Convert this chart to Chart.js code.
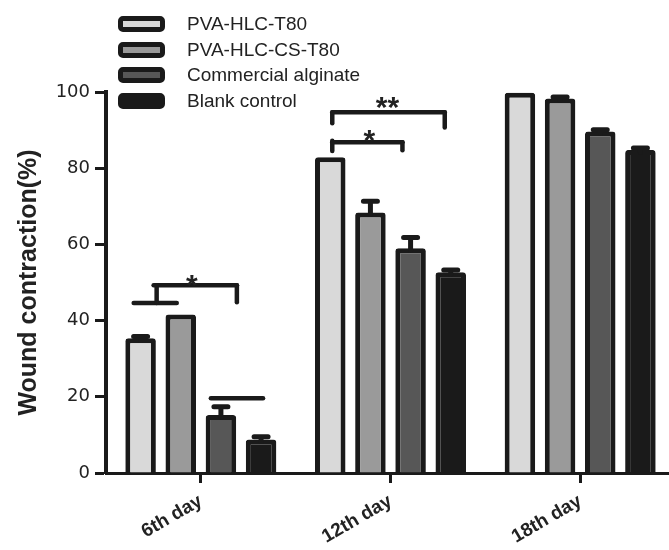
<!DOCTYPE html>
<html>
<head>
<meta charset="utf-8">
<script src="https://cdn.jsdelivr.net/npm/chart.js@4.4.1/dist/chart.umd.min.js"></script>
<style>
  html, body { margin: 0; padding: 0; background: #fff; overflow: hidden; }
  #wrap { position: relative; width: 675px; height: 550px; }
  #legend { position: absolute; left: 118px; top: 11px; font-family: 'Liberation Sans', Arial, sans-serif; font-size: 19px; color: #222; }
  .leg-row { display: flex; align-items: center; height: 25.7px; }
  .leg-box { width: 37px; height: 6px; border: 5px solid #1a1a1a; border-radius: 5px; margin-right: 22px; }
</style>
</head>
<body>
<div id="wrap">
  <canvas id="woundChart"></canvas>
  <div id="legend"></div>
</div>
<script>
// categories and series
var dayLabels = ['6th day', '12th day', '18th day'];
var seriesNames = ['PVA-HLC-T80', 'PVA-HLC-CS-T80', 'Commercial alginate', 'Blank control'];

// wound contraction (%) per day
var hlcT80 = [35.4, 82.9, 99.8];
var hlcCsT80 = [41.6, 68.4, 98.3];
var alginate = [15.2, 59.0, 89.6];
var blank = [8.8, 52.7, 84.8];

// error bars (upper only)
var hlcT80Err = [0.4, 0, 0];
var hlcCsT80Err = [0, 2.9, 0.4];
var alginateErr = [2.2, 2.8, 0.5];
var blankErr = [0.7, 0.6, 0.5];

var yTicks = [0, 20, 40, 60, 80, 100];

// significance marks, x in category index units, y in %
var sigLines = [
    [-0.354, 44.6, -0.127, 44.6],
    [-0.233, 44.6, -0.233, 49.3],
    [-0.249, 49.3, 0.19, 49.3],
    [0.19, 49.3, 0.19, 44.8],
    [0.053, 19.6, 0.328, 19.6],
    [0.693, 84.5, 0.693, 87.2],
    [0.693, 86.8, 1.063, 86.8],
    [1.063, 86.8, 1.063, 84.7],
    [0.693, 91.8, 0.693, 94.7],
    [0.693, 94.7, 1.286, 94.7],
    [1.286, 94.7, 1.286, 90.7]
];
var sigStars = [[-0.048, 51.3, '*'], [0.889, 89.2, '*'], [0.984, 97.9, '**']];

var fills = ['#d9d9d9', '#9a9a9a', '#575757', '#1a1a1a'];
var errs = [hlcT80Err, hlcCsT80Err, alginateErr, blankErr];
var ink = '#1a1a1a';

// error bars drawn on top of the bars
var errorBarPlugin = {
    id: 'errorBars',
    afterDatasetsDraw: function (chart) {
        var ctx = chart.ctx;
        var yScale = chart.scales.y;
        ctx.save();
        ctx.strokeStyle = ink;
        ctx.lineWidth = 5;
        ctx.lineCap = 'round';
        chart.data.datasets.forEach(function (ds, i) {
            var meta = chart.getDatasetMeta(i);
            meta.data.forEach(function (bar, j) {
                var e = errs[i][j];
                if (!e) return;
                var yc = yScale.getPixelForValue(ds.data[j] + e);
                ctx.beginPath();
                ctx.moveTo(bar.x, bar.y + 2);
                ctx.lineTo(bar.x, yc);
                ctx.moveTo(bar.x - 7, yc);
                ctx.lineTo(bar.x + 7, yc);
                ctx.stroke();
            });
        });
        ctx.restore();
    }
};

// brackets and asterisks
var sigPlugin = {
    id: 'sigMarks',
    afterDraw: function (chart) {
        var ctx = chart.ctx;
        var xs = chart.scales.x, ys = chart.scales.y;
        ctx.save();
        ctx.strokeStyle = ink;
        ctx.lineWidth = 4.5;
        ctx.lineCap = 'round';
        sigLines.forEach(function (l) {
            ctx.beginPath();
            ctx.moveTo(xs.getPixelForValue(l[0]), ys.getPixelForValue(l[1]));
            ctx.lineTo(xs.getPixelForValue(l[2]), ys.getPixelForValue(l[3]));
            ctx.stroke();
        });
        ctx.fillStyle = '#222';
        ctx.font = 'bold 30px "Liberation Sans", Arial, sans-serif';
        ctx.textAlign = 'center';
        ctx.textBaseline = 'alphabetic';
        sigStars.forEach(function (s) {
            ctx.fillText(s[2], xs.getPixelForValue(s[0]), ys.getPixelForValue(s[1]) + 17);
        });
        ctx.restore();
    }
};

document.addEventListener('DOMContentLoaded', function () {
    var ctx = document.getElementById('woundChart').getContext('2d');
    var seriesData = [hlcT80, hlcCsT80, alginate, blank];

    var chart = new Chart(ctx, {
        type: 'bar',
        data: {
            labels: dayLabels,
            datasets: seriesNames.map(function (name, i) {
                return {
                    label: name,
                    data: seriesData[i],
                    backgroundColor: fills[i],
                    borderColor: ink,
                    borderWidth: 5,
                    borderRadius: 3,
                    borderSkipped: 'start',
                    categoryPercentage: 0.847,
                    barPercentage: 0.76
                };
            })
        },
        options: {
            responsive: true,
            maintainAspectRatio: false,
            animation: false,
            layout: { padding: { top: 92, left: 0, right: 0, bottom: 0 } },
            plugins: {
                legend: { display: false },
                tooltip: { enabled: false }
            },
            scales: {
                x: {
                    afterFit: function (scale) { scale.height = 77; },
                    border: { color: ink, width: 3 },
                    grid: {
                        offset: false,
                        drawOnChartArea: false,
                        tickLength: 10,
                        tickWidth: 3,
                        tickColor: ink
                    },
                    ticks: {
                        minRotation: 30,
                        maxRotation: 30,
                        padding: 7,
                        color: '#222',
                        font: { family: '"Liberation Sans", Arial, sans-serif', size: 19, weight: 'bold' }
                    }
                },
                y: {
                    min: 0,
                    max: 100,
                    afterFit: function (scale) { scale.width = 106; },
                    afterBuildTicks: function (scale) {
                        scale.ticks = yTicks.map(function (v) { return { value: v }; });
                    },
                    border: { color: ink, width: 4 },
                    grid: {
                        drawOnChartArea: false,
                        tickLength: 11,
                        tickWidth: 3,
                        tickColor: ink
                    },
                    ticks: {
                        padding: 5,
                        color: '#222',
                        font: { family: '"DejaVu Sans", sans-serif', size: 18 }
                    },
                    title: {
                        display: true,
                        text: 'Wound contraction(%)',
                        color: '#222',
                        padding: { top: 14, bottom: 0 },
                        font: { family: '"Liberation Sans", Arial, sans-serif', size: 25, weight: 'bold' }
                    }
                }
            }
        },
        plugins: [errorBarPlugin, sigPlugin]
    });

    // legend built from the datasets
    var legend = document.getElementById('legend');
    chart.data.datasets.forEach(function (ds) {
        var row = document.createElement('div');
        row.className = 'leg-row';
        var box = document.createElement('span');
        box.className = 'leg-box';
        box.style.background = ds.backgroundColor;
        var txt = document.createElement('span');
        txt.textContent = ds.label;
        row.appendChild(box);
        row.appendChild(txt);
        legend.appendChild(row);
    });
});
</script>
</body>
</html>
